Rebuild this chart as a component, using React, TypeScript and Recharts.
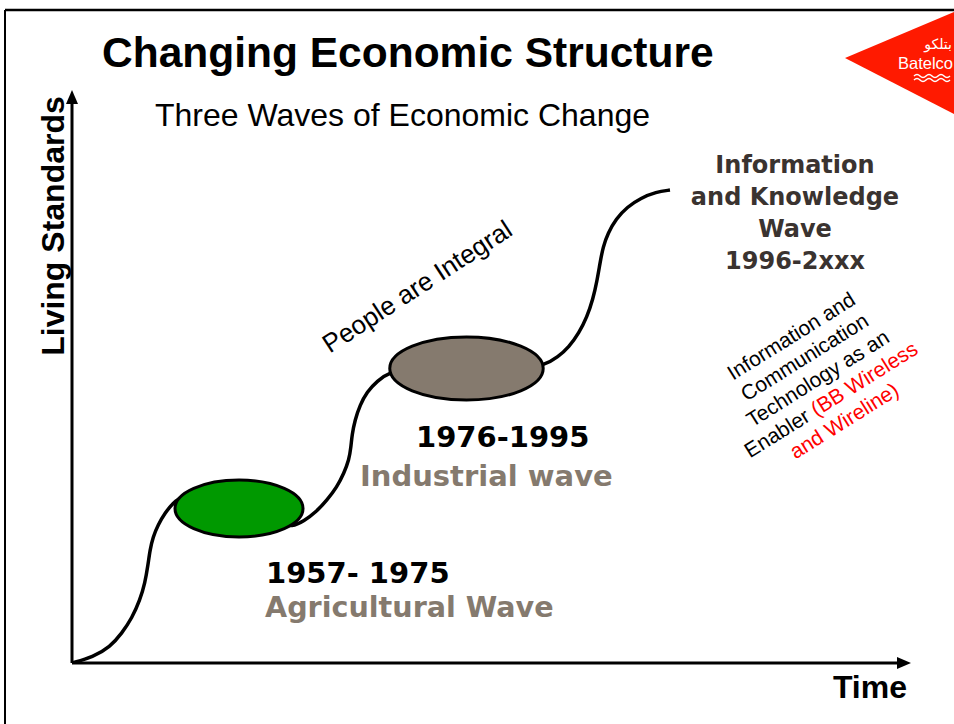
import React from "react";
import { ComposedChart, Line, XAxis, YAxis, ReferenceArea, ReferenceDot, ReferenceLine } from "recharts";

// time (0-100) and living standards (0-100)
const timeVals = [
  0, 2.52, 4.56, 6.0, 7.19, 8.15, 8.75, 9.11, 9.35, 9.71, 10.31, 11.15, 12.11, 13.19,
  15.95, 18.94, 21.94, 24.94, 26.38, 27.82, 29.26, 30.58, 31.77, 32.61, 33.21, 33.45, 33.57,
  33.93, 34.53, 35.37, 36.57, 38.13, 40.77, 44.12, 47.72, 51.32, 54.32, 56.71, 58.27, 59.59,
  60.79, 61.75, 62.47, 62.95, 63.31, 63.67, 64.27, 65.23, 66.55, 68.23, 70.02, 71.7,
];
const livingVals = [
  0, 1.06, 2.82, 5.28, 7.92, 11.09, 14.08, 17.25, 19.89, 22.18, 24.3, 26.41, 28.17, 29.4,
  29.58, 28.35, 26.58, 24.47, 23.94, 25.0, 26.58, 28.7, 30.99, 33.45, 35.74, 38.03, 40.14,
  42.78, 45.42, 47.71, 49.65, 51.23, 52.11, 52.29, 52.11, 51.94, 51.94, 52.46, 53.87, 55.63,
  58.1, 60.92, 64.08, 67.25, 70.42, 73.24, 75.7, 78.17, 80.28, 81.87, 82.92, 83.27,
];

// the two wave "bubbles": time span and living standard span
const waveNames = ["agricultural", "industrial"];
const waveStart = [12.35, 38.1];
const waveEnd = [27.7, 56.5];
const waveLow = [22.2, 46.3];
const waveHigh = [32.2, 57.4];
const waveFill = ["#009900", "#857a6e"];

const curve = timeVals.map((t, i) => ({ t, v: livingVals[i] }));

const sans = "'Liberation Sans', Arial, sans-serif";
const bold = "'DejaVu Sans', Verdana, sans-serif";

function Ellipse(fill: string) {
  return (p: any) => (
    <ellipse
      cx={p.x + p.width / 2}
      cy={p.y + p.height / 2}
      rx={Math.abs(p.width) / 2}
      ry={Math.abs(p.height) / 2}
      fill={fill}
      stroke="#000"
      strokeWidth={3}
    />
  );
}

const arrowRight = (p: any) => (
  <polygon points={`${p.cx + 5},${p.cy} ${p.cx - 9},${p.cy - 6} ${p.cx - 9},${p.cy + 6}`} fill="#000" />
);
const arrowUp = (p: any) => (
  <polygon points={`${p.cx},${p.cy - 5} ${p.cx - 6},${p.cy + 9} ${p.cx + 6},${p.cy + 9}`} fill="#000" />
);

export default function App() {
  return (
    <div style={{ position: "absolute", left: 0, top: 0, width: 954, height: 724, background: "#fff", overflow: "hidden" }}>
      <ComposedChart width={954} height={724} data={curve} margin={{ top: 95, right: 48, bottom: 61, left: 72 }}>
        <XAxis dataKey="t" type="number" domain={[0, 100]} allowDataOverflow hide />
        <YAxis type="number" domain={[0, 100]} allowDataOverflow hide />
        <ReferenceLine x={0} stroke="#000" strokeWidth={3} />
        <ReferenceLine y={0} stroke="#000" strokeWidth={3} />
        <Line
          dataKey="v"
          type="basis"
          stroke="#000"
          strokeWidth={3.5}
          dot={false}
          activeDot={false}
          isAnimationActive={false}
        />
        {waveNames.map((n, i) => (
          <ReferenceArea
            key={n}
            x1={waveStart[i]}
            x2={waveEnd[i]}
            y1={waveLow[i]}
            y2={waveHigh[i]}
            shape={Ellipse(waveFill[i])}
            {...({ zIndex: 900 } as any)}
          />
        ))}
        <ReferenceDot x={100} y={0} shape={arrowRight} {...({ zIndex: 900 } as any)} />
        <ReferenceDot x={0} y={100} shape={arrowUp} {...({ zIndex: 900 } as any)} />
      </ComposedChart>

      <svg width={954} height={724} style={{ position: "absolute", left: 0, top: 0, pointerEvents: "none" }}>
        {/* slide frame */}
        <line x1={5} y1={10} x2={954} y2={10} stroke="#000" strokeWidth={2.5} />
        <line x1={5} y1={10} x2={5} y2={724} stroke="#000" strokeWidth={2} />

        {/* logo */}
        <polygon points="845,58 954,12 954,114" fill="#ff1a00" />
        <text x={952} y={49} textAnchor="end" fill="#fff" fontFamily="'DejaVu Sans', sans-serif" fontSize={14}>بتلكو</text>
        <text x={953} y={69} textAnchor="end" fill="#fff" fontFamily={sans} fontSize={16.5}>Batelco</text>
        <path d="M914,76 q3,-3 6,0 t6,0 t6,0 t6,0 t6,0 t6,0" fill="none" stroke="#fff" strokeWidth={1.5} />
        <path d="M914,80 q3,-3 6,0 t6,0 t6,0 t6,0 t6,0 t6,0" fill="none" stroke="#fff" strokeWidth={1.5} />

        <text x={102} y={67} fontFamily={sans} fontWeight="bold" fontSize={42.5} fill="#000">Changing Economic Structure</text>
        <text x={155} y={126} fontFamily={sans} fontSize={32} fill="#000">Three Waves of Economic Change</text>

        <text transform="translate(64,226) rotate(-90)" textAnchor="middle" fontFamily={sans} fontWeight="bold" fontSize={32} fill="#000">Living Standards</text>
        <text x={907} y={698} textAnchor="end" fontFamily={sans} fontWeight="bold" fontSize={32} fill="#000">Time</text>

        <text transform="translate(422,294) rotate(-33)" textAnchor="middle" fontFamily={sans} fontSize={26} fill="#000">People are Integral</text>

        <g fontFamily={bold} fontWeight="bold" fontSize={24} fill="#3a3330" textAnchor="middle">
          <text x={795} y={173}>Information</text>
          <text x={795} y={205}>and Knowledge</text>
          <text x={795} y={237}>Wave</text>
          <text x={795} y={269}>1996-2xxx</text>
        </g>

        <g fontFamily={bold} fontWeight="bold" fontSize={29}>
          <text x={416} y={447} fill="#000">1976-1995</text>
          <text x={360} y={486} fill="#857a6e">Industrial wave</text>
          <text x={266} y={583} fill="#000">1957- 1975</text>
          <text x={265} y={617} fill="#857a6e" fontSize={28.6}>Agricultural Wave</text>
        </g>

        <g transform="translate(795,342) rotate(-32)" fontFamily={sans} fontSize={21} textAnchor="middle" fill="#000">
          <text x={0} y={0}>Information and</text>
          <text x={0} y={25}>Communication</text>
          <text x={0} y={50}>Technology as an</text>
          <text x={0} y={75}>Enabler <tspan fill="#ff0000">(BB Wireless</tspan></text>
          <text x={0} y={100} fill="#ff0000">and Wireline)</text>
        </g>
      </svg>
    </div>
  );
}
